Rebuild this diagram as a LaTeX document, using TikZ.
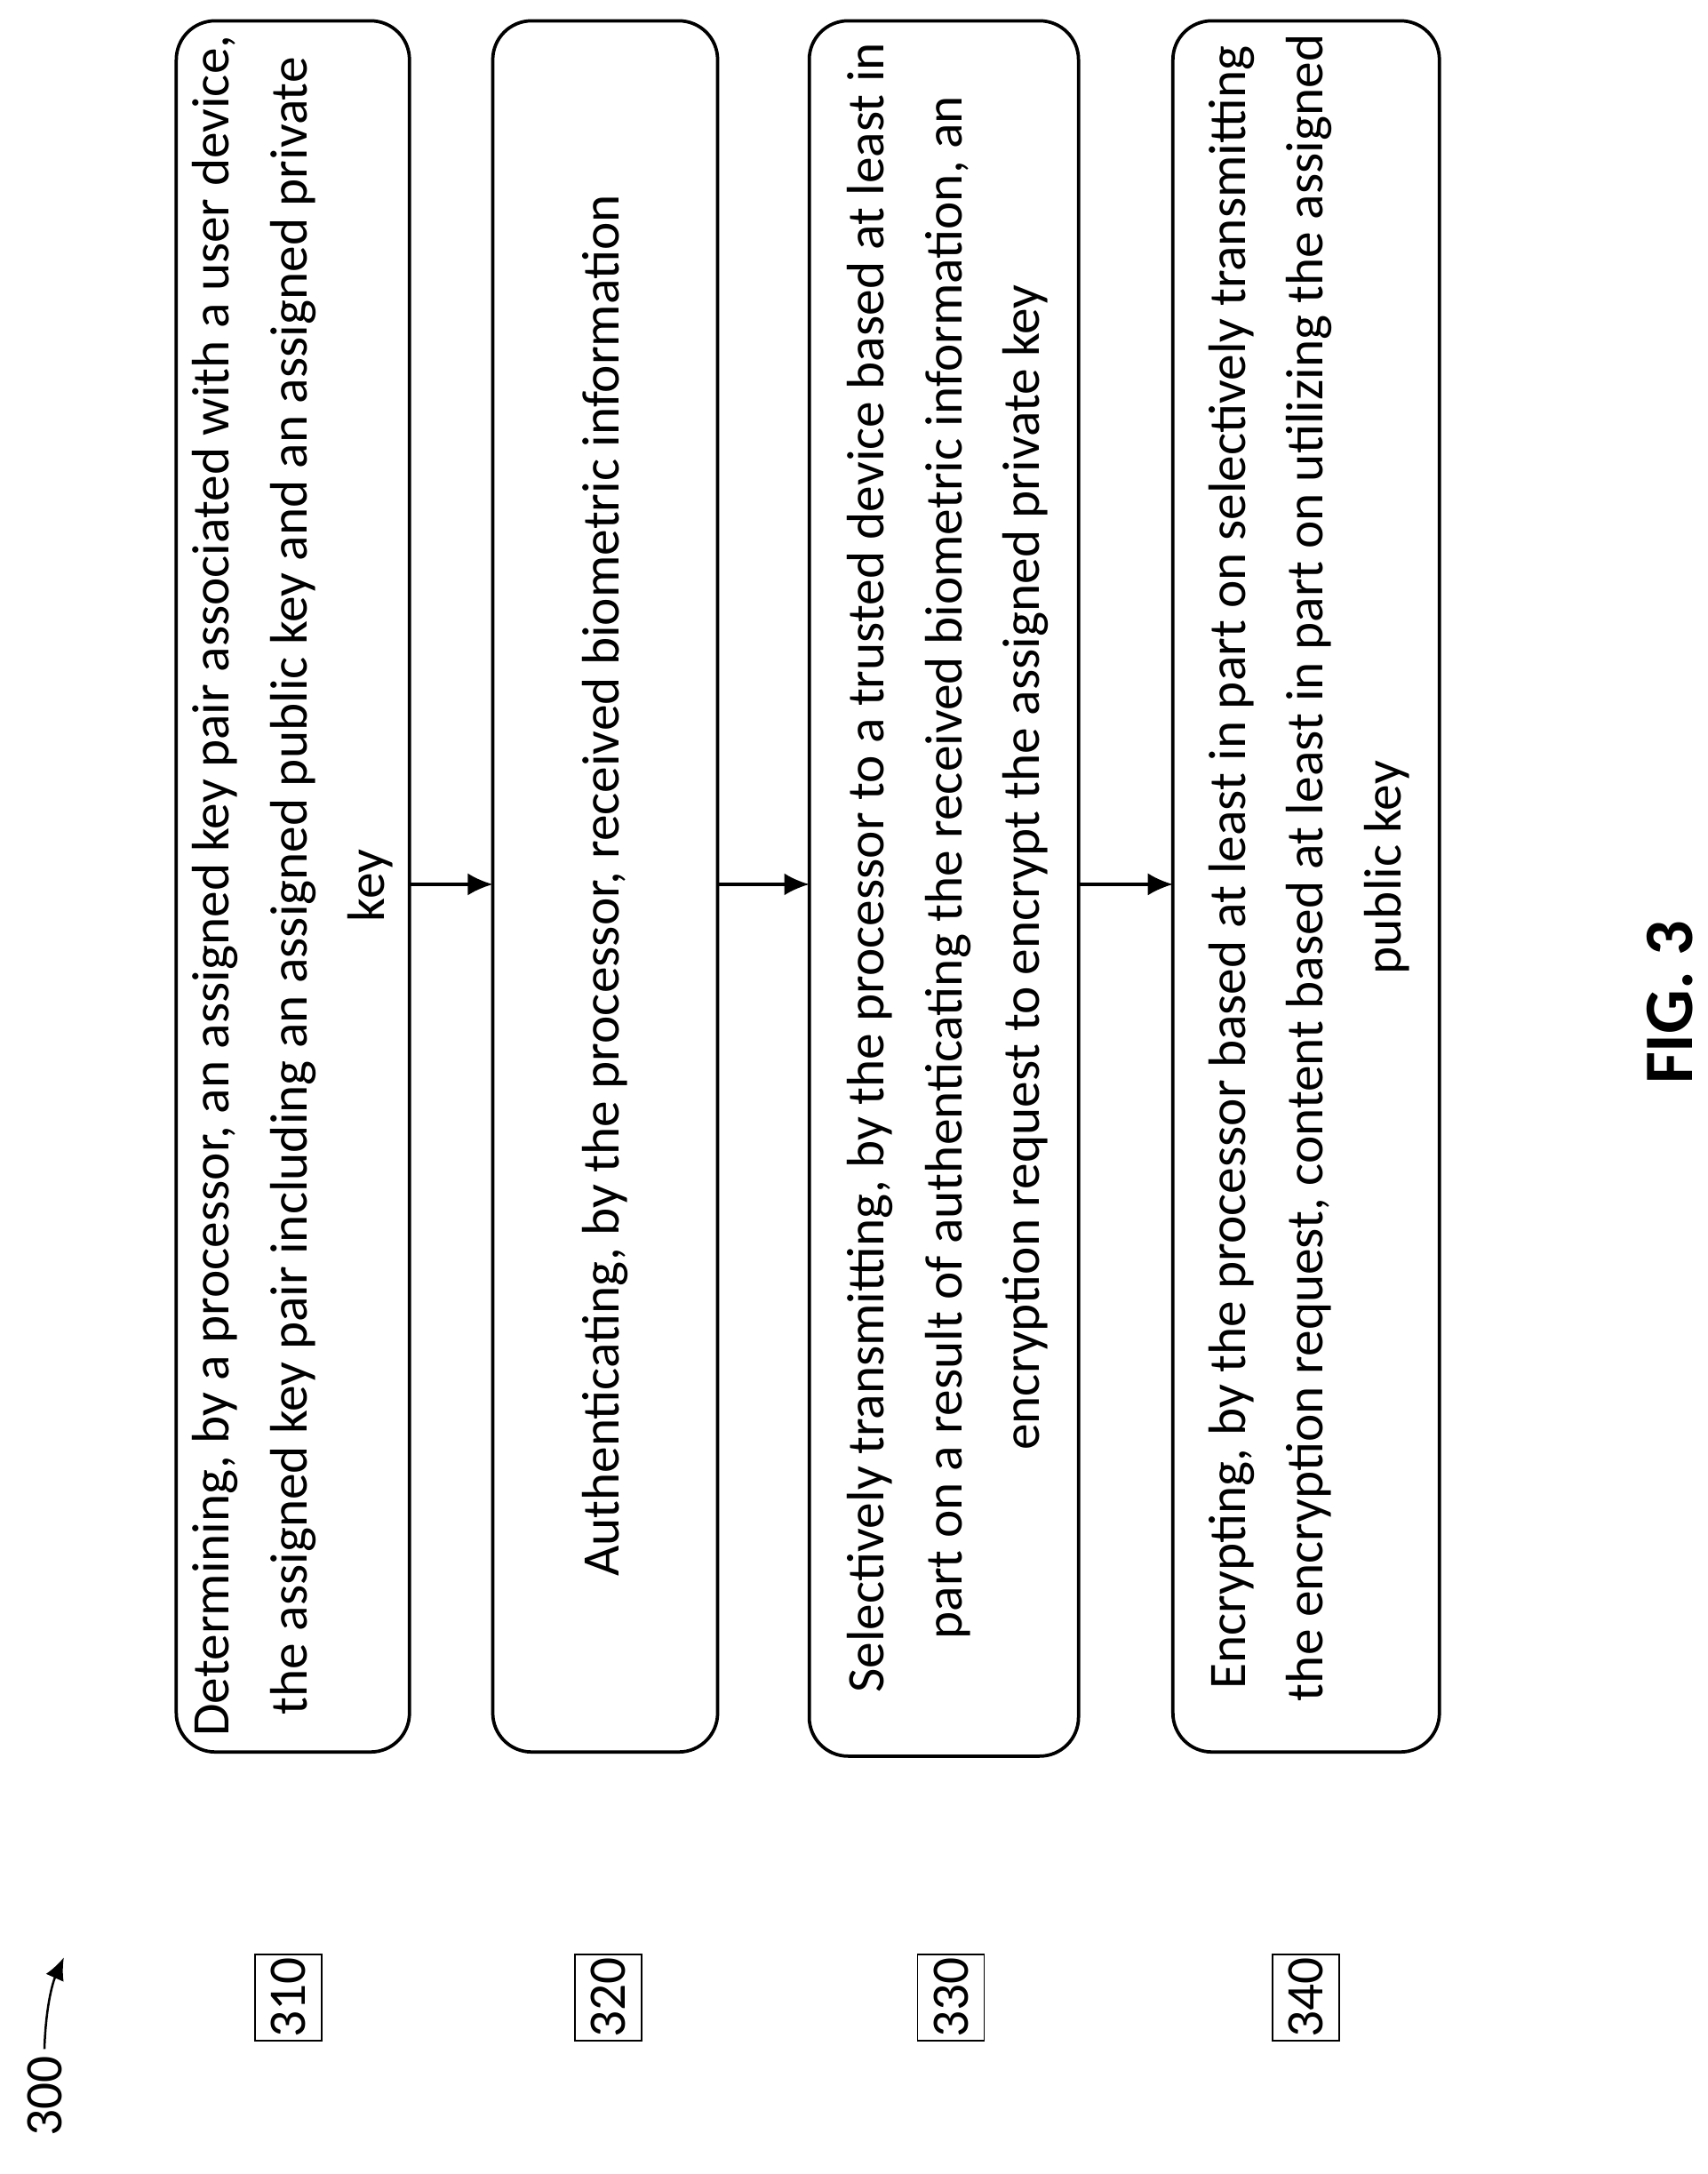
\documentclass[tikz,border=0pt]{standalone}
\usepackage{fontspec}
\setmainfont{Carlito}
\usetikzlibrary{arrows.meta}
\begin{document}
\begin{tikzpicture}[x=0.5pt,y=-0.5pt,
 stepbox/.style={draw,line width=1.2pt,rounded corners=14pt},
 steptext/.style={rotate=90,align=center,font=\fontsize{19}{28}\selectfont},
 lbl/.style={draw,line width=0.6pt,rotate=90,minimum width=31pt,minimum height=24pt,inner sep=1pt,font=\fontsize{19}{22}\selectfont},
 arr/.style={-{Latex[length=9pt,width=8pt]},line width=1pt}]
\useasboundingbox (0,0) rectangle (1230,1566);
\draw[stepbox] (127,15) rectangle (295,1262);
\draw[stepbox] (355,15) rectangle (517,1262);
\draw[stepbox] (583,15) rectangle (777,1265);
\draw[stepbox] (845,15) rectangle (1037,1262);
\node[steptext] (t1) at (211,638) {Determining, by a processor, an assigned key pair associated with a user device,\\the assigned key pair including an assigned public key and an assigned private\\key};
\node[steptext] (t2) at (436,638) {Authenticating, by the processor, received biometric information};
\node[steptext] (t3) at (683,625) {Selectively transmitting, by the processor to a trusted device based at least in\\part on a result of authenticating the received biometric information, an\\encryption request to encrypt the assigned private key};
\node[steptext] (t4) at (943,625) {Encrypting, by the processor based at least in part on selectively transmitting\\the encryption request, content based at least in part on utilizing the assigned\\public key};
\coordinate (a1) at (295,637); \coordinate (b1) at (355,637);
\coordinate (a2) at (517,637); \coordinate (b2) at (583,637);
\coordinate (a3) at (777,637); \coordinate (b3) at (845,637);
\draw[arr] (a1) -- (b1);
\draw[arr] (a2) -- (b2);
\draw[arr] (a3) -- (b3);
\node[lbl] (l1) at (208,1439) {310};
\node[lbl] (l2) at (438,1439) {320};
\node[lbl] (l3) at (685,1439) {330};
\node[lbl] (l4) at (941,1439) {340};
\node[rotate=90,font=\fontsize{19}{22}\selectfont] (n300) at (32,1510) {300};
\coordinate (c300) at (46,1410);
\draw[-{Latex[length=8pt,width=7pt]},line width=0.8pt] (32,1476) .. controls (33,1445) and (38,1428) .. (c300);
\node[rotate=90,font=\bfseries\fontsize{25}{30}\selectfont] (fig) at (1203,722) {FIG. 3};
\end{tikzpicture}
\end{document}
